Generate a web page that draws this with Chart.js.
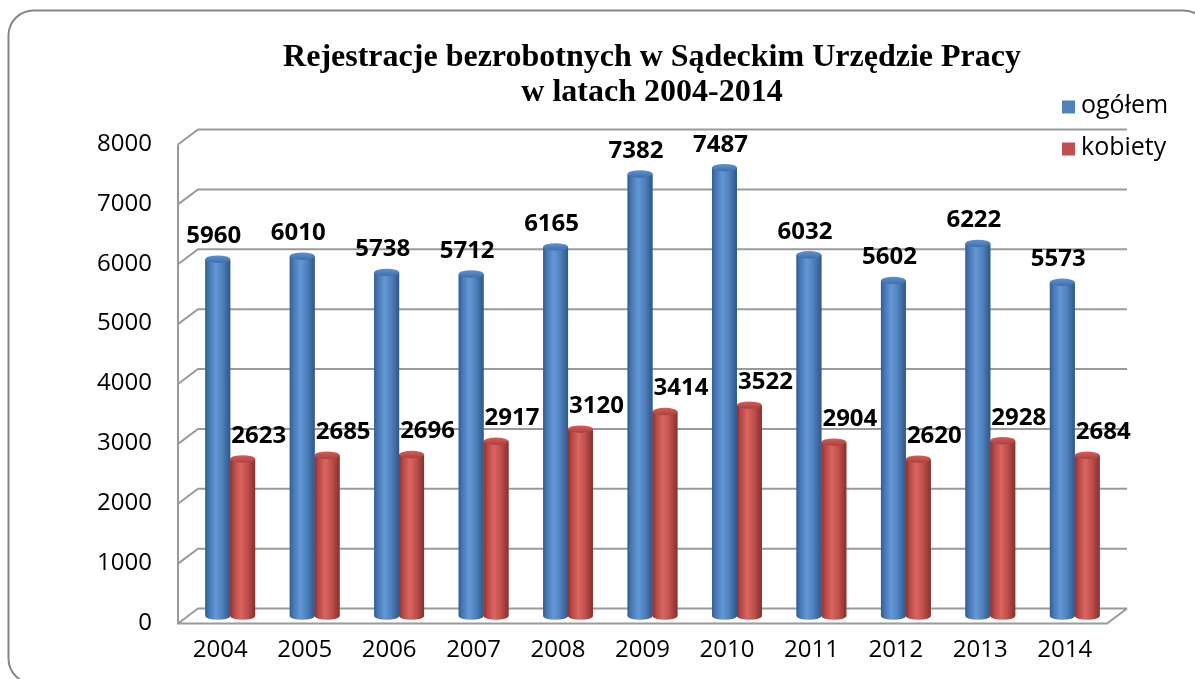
<!DOCTYPE html>
<html><head><meta charset="utf-8">
<script src="https://cdn.jsdelivr.net/npm/chart.js@4.4.1/dist/chart.umd.min.js"></script>
<style>html,body{margin:0;padding:0;background:#fff;overflow:hidden}</style>
</head><body>
<canvas id="c" width="1195" height="679"></canvas>
<script>
const categories = ['2004','2005','2006','2007','2008','2009','2010','2011','2012','2013','2014'];
const ogolem = [5960, 6010, 5738, 5712, 6165, 7382, 7487, 6032, 5602, 6222, 5573];
const kobiety = [2623, 2685, 2696, 2917, 3120, 3414, 3522, 2904, 2620, 2928, 2684];
const seriesNames = ['ogółem', 'kobiety'];
const yTickValues = [0, 1000, 2000, 3000, 4000, 5000, 6000, 7000, 8000];
const titleLines = ['Rejestracje bezrobotnych w Sądeckim Urzędzie Pracy', 'w latach 2004-2014'];

const baseColors = ['#4F81BD', '#C0504D'];
const bodyStops = [
  ['#345d90', '#4877b3', '#6398d8', '#4f81bd', '#30578a'],
  ['#8a3230', '#b54845', '#da6561', '#c0504d', '#87302e']
];
const capStops = [['#5f92d2', '#3f6ea9'], ['#d45f5b', '#a8403d']];
const labelDx = [-4, 16];
const DX = 10, DY = 7.5;
const FONT = '"Open Sans"';

const deco = {
  id: 'deco',
  beforeDraw(chart) {
    const ctx = chart.ctx;
    ctx.save();
    ctx.fillStyle = '#fff';
    ctx.fillRect(0, 0, chart.width, chart.height);
    ctx.beginPath();
    ctx.roundRect(8.5, 10.5, 1200, 673, 25);
    ctx.strokeStyle = '#868686';
    ctx.lineWidth = 2;
    ctx.stroke();
    // title
    ctx.fillStyle = '#000';
    ctx.font = 'bold 32px "Liberation Serif"';
    ctx.textAlign = 'center';
    ctx.textBaseline = 'alphabetic';
    ctx.fillText(titleLines[0], 652, 66);
    ctx.fillText(titleLines[1], 652, 101);
    // legend
    ctx.textAlign = 'left';
    ctx.textBaseline = 'middle';
    ctx.font = '25px ' + FONT;
    const ly = [107, 149];
    for (let i = 0; i < 2; i++) {
      ctx.fillStyle = baseColors[i];
      ctx.fillRect(1062, ly[i] - 6.5, 13, 13);
      ctx.fillStyle = '#000';
      ctx.fillText(seriesNames[i], 1081, ly[i] - 1);
    }
    ctx.restore();
  },
  beforeDatasetsDraw(chart) {
    const ctx = chart.ctx, ys = chart.scales.y, a = chart.chartArea;
    ctx.save();
    ctx.strokeStyle = '#9a9a9a';
    ctx.lineWidth = 2;
    ctx.beginPath();
    for (const v of yTickValues) {
      const y = ys.getPixelForValue(v);
      ctx.moveTo(a.left - DX, y + DY);
      ctx.lineTo(a.left + DX, y - DY);
      ctx.lineTo(a.right + DX, y - DY);
    }
    const yb = ys.getPixelForValue(0), yt = ys.getPixelForValue(8000);
    ctx.moveTo(a.left - DX, yt + DY);
    ctx.lineTo(a.left - DX, yb + DY);
    ctx.lineTo(a.right - DX, yb + DY);
    ctx.lineTo(a.right + DX, yb - DY);
    ctx.stroke();
    ctx.restore();
  },
  afterDatasetsDraw(chart) {
    const ctx = chart.ctx;
    ctx.save();
    chart.data.datasets.forEach((ds, di) => {
      const meta = chart.getDatasetMeta(di);
      meta.data.forEach((bar) => {
        const cx = bar.x, w = bar.width, rx = w / 2, ry = w * 0.15;
        const top = bar.y, base = bar.base;
        const g = ctx.createLinearGradient(cx - rx, 0, cx + rx, 0);
        const st = bodyStops[di];
        [0, 0.15, 0.42, 0.68, 1].forEach((p, k) => g.addColorStop(p, st[k]));
        ctx.beginPath();
        ctx.moveTo(cx - rx, top);
        ctx.lineTo(cx - rx, base);
        ctx.ellipse(cx, base, rx, ry, 0, Math.PI, 0, true);
        ctx.lineTo(cx + rx, top);
        ctx.closePath();
        ctx.fillStyle = g;
        ctx.fill();
        const gc = ctx.createLinearGradient(0, top - ry, 0, top + ry);
        gc.addColorStop(0, capStops[di][0]);
        gc.addColorStop(1, capStops[di][1]);
        ctx.beginPath();
        ctx.ellipse(cx, top, rx, ry, 0, 0, Math.PI * 2);
        ctx.fillStyle = gc;
        ctx.fill();
      });
    });
    ctx.fillStyle = '#000';
    ctx.font = 'bold 24px ' + FONT;
    ctx.textAlign = 'center';
    ctx.textBaseline = 'middle';
    chart.data.datasets.forEach((ds, di) => {
      const meta = chart.getDatasetMeta(di);
      meta.data.forEach((bar, i) => {
        ctx.fillText(String(ds.data[i]), bar.x + labelDx[di], bar.y - 23);
      });
    });
    ctx.restore();
  }
};

new Chart(document.getElementById('c'), {
  type: 'bar',
  data: {
    labels: categories,
    datasets: [
      { label: seriesNames[0], data: ogolem, backgroundColor: baseColors[0] },
      { label: seriesNames[1], data: kobiety, backgroundColor: baseColors[1] }
    ]
  },
  options: {
    responsive: false,
    animation: false,
    devicePixelRatio: 1,
    categoryPercentage: 0.59,
    barPercentage: 1,
    layout: { padding: { top: 137, right: 78, bottom: 0, left: 0 } },
    plugins: { legend: { display: false }, title: { display: false }, tooltip: { enabled: false } },
    scales: {
      x: {
        grid: { display: false, drawTicks: false },
        border: { display: false },
        ticks: { color: '#000', font: { family: 'Open Sans', size: 24 }, padding: 20, labelOffset: -10, maxRotation: 0 },
        afterFit(s) { s.height = 63; }
      },
      y: {
        min: 0, max: 8000,
        grid: { display: false, drawTicks: false },
        border: { display: false },
        ticks: { color: '#000', font: { family: 'Open Sans', size: 24 }, padding: 36, stepSize: 1000, labelOffset: 7,
          callback: (v) => String(v) },
        afterFit(s) { s.width = 188; }
      }
    }
  },
  plugins: [deco]
});
</script>
</body></html>
